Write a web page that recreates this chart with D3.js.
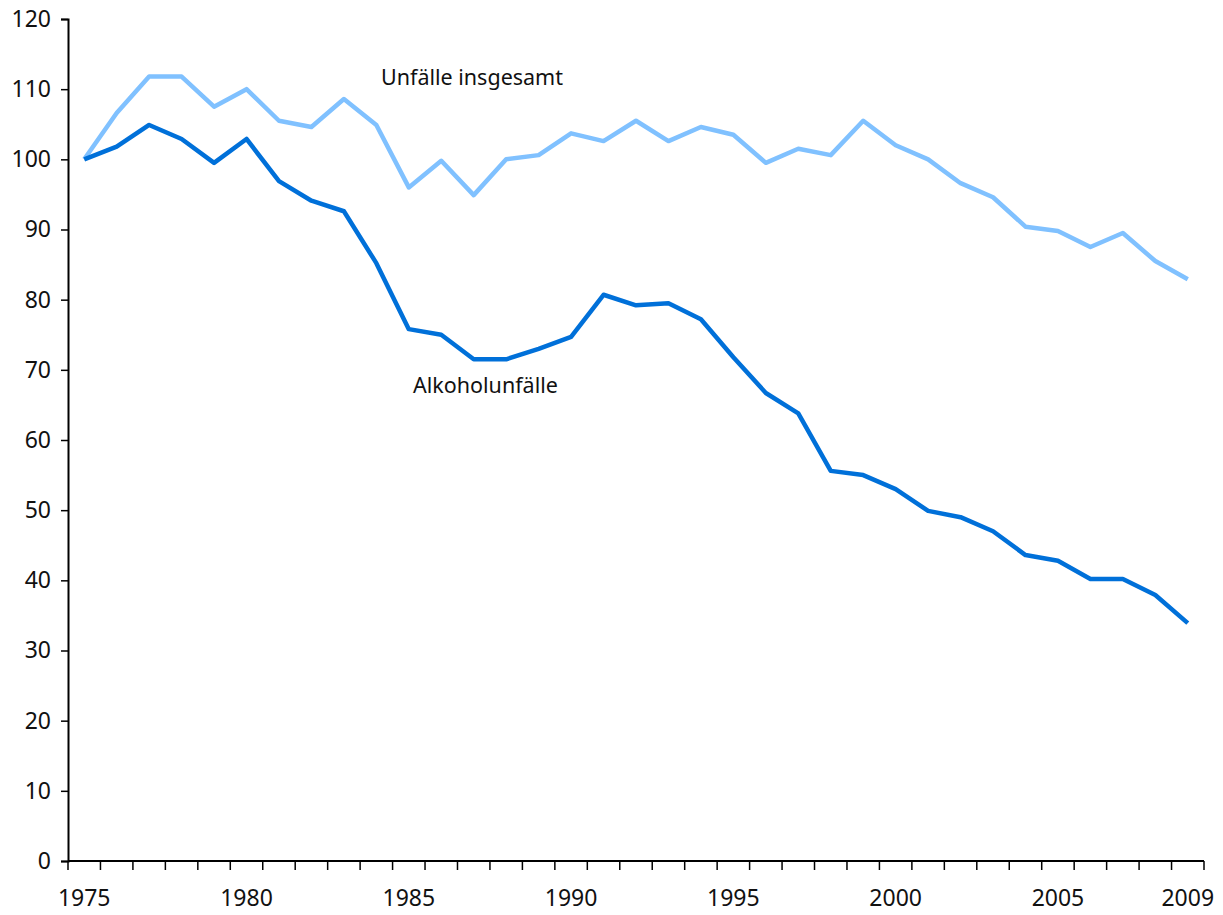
<!DOCTYPE html>
<html>
<head>
<meta charset="utf-8">
<script src="https://cdn.jsdelivr.net/npm/d3@7"></script>
<style>
  body { margin: 0; background: #fff; }
  text { font-family: "Noto Sans", "Open Sans", sans-serif; fill: #111; }
</style>
</head>
<body>
<script>
// years on the x axis
const years = d3.range(1975, 2010);
const xTickLabels = [1975, 1980, 1985, 1990, 1995, 2000, 2005, 2009];
const yTicks = d3.range(0, 121, 10);

// index values (1975 = 100)
const insgesamt = [100, 106.6, 111.8, 111.8, 107.5, 110, 105.5, 104.6, 108.6, 104.9,
  96.0, 99.8, 94.9, 100, 100.6, 103.7, 102.6, 105.5, 102.6, 104.6,
  103.5, 99.5, 101.5, 100.6, 105.5, 102, 100, 96.6, 94.6, 90.4,
  89.8, 87.5, 89.5, 85.5, 82.9];
const alkohol = [100, 101.8, 104.9, 102.9, 99.5, 102.9, 96.9, 94.1, 92.6, 85.2,
  75.8, 75.0, 71.5, 71.5, 73.0, 74.7, 80.7, 79.2, 79.5, 77.2,
  71.8, 66.7, 63.8, 55.6, 55.0, 53.0, 49.9, 49.0, 47.0, 43.6,
  42.8, 40.2, 40.2, 37.9, 33.9];

const width = 1223, height = 915;
const margin = { left: 68, right: 19, top: 19, bottom: 54 };

const svg = d3.select("body").append("svg")
    .attr("width", width)
    .attr("height", height);

const x = d3.scaleBand()
    .domain(years)
    .range([margin.left, width - margin.right]);

const y = d3.scaleLinear()
    .domain([0, 120])
    .range([height - margin.bottom, margin.top]);

// x axis: ticks between years, labels at selected years
const xAxis = svg.append("g")
    .attr("transform", "translate(0," + (height - margin.bottom) + ")");
xAxis.append("line")
    .attr("x1", margin.left).attr("x2", width - margin.right)
    .attr("stroke", "#000").attr("stroke-width", 2);
xAxis.selectAll(".tk")
    .data(years.concat([2010]))
    .enter().append("line")
    .attr("x1", d => d === 2010 ? x.range()[1] : x(d))
    .attr("x2", d => d === 2010 ? x.range()[1] : x(d))
    .attr("y1", 0).attr("y2", 9)
    .attr("stroke", "#000").attr("stroke-width", 1.5);
xAxis.selectAll(".lbl")
    .data(xTickLabels)
    .enter().append("text")
    .attr("x", d => x(d) + x.bandwidth() / 2)
    .attr("y", 45)
    .attr("text-anchor", "middle")
    .attr("font-size", 23)
    .text(d => d);

// y axis
const yAxis = svg.append("g")
    .attr("transform", "translate(" + margin.left + ",0)")
    .call(d3.axisLeft(y).tickValues(yTicks).tickSize(7).tickPadding(10));
yAxis.select(".domain").attr("stroke-width", 2);
yAxis.selectAll(".tick line").attr("stroke-width", 1.5);
yAxis.selectAll(".tick text")
    .attr("font-size", 23)
    .attr("fill", "#111")
    .attr("font-family", "\"Noto Sans\", sans-serif");

const line = d3.line()
    .x((d, i) => x(years[i]) + x.bandwidth() / 2)
    .y(d => y(d));

svg.append("path")
    .datum(insgesamt)
    .attr("d", line)
    .attr("fill", "none")
    .attr("stroke", "#80c1ff")
    .attr("stroke-width", 4.5)
    .attr("stroke-linejoin", "round");

svg.append("path")
    .datum(alkohol)
    .attr("d", line)
    .attr("fill", "none")
    .attr("stroke", "#0070d9")
    .attr("stroke-width", 4.5)
    .attr("stroke-linejoin", "round");

// series labels
svg.append("text")
    .attr("x", 381).attr("y", 85)
    .attr("font-size", 21.5)
    .text("Unfälle insgesamt");
svg.append("text")
    .attr("x", 413).attr("y", 393)
    .attr("font-size", 21.5)
    .text("Alkoholunfälle");
</script>
</body>
</html>
